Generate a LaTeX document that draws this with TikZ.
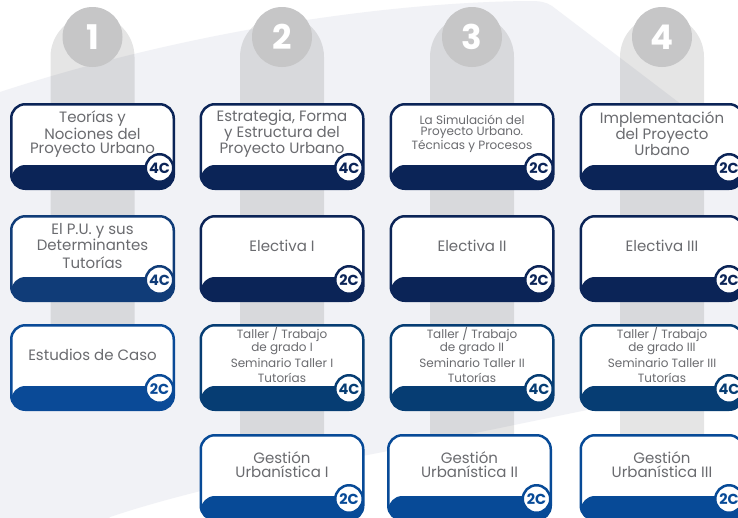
\documentclass[tikz,border=0pt]{standalone}
\usepackage{fontspec}
\setmainfont{Poppins}
\definecolor{bglight}{HTML}{F1F2F6}
\definecolor{numgray}{HTML}{C6C6C7}
\definecolor{txtgray}{HTML}{6A6B6F}
\definecolor{navy}{HTML}{0B2457}
\definecolor{navyb}{HTML}{103C78}
\definecolor{midblue}{HTML}{063D73}
\definecolor{blueA}{HTML}{0A4A97}
\definecolor{blueB}{HTML}{074A97}
\newcommand\mycard[7][]{%
  \node[cardbox, draw=#5, path picture={\fill[#5] ([yshift=-3pt]path picture bounding box.south west) rectangle ([yshift=23.75pt]path picture bounding box.south east);}] (#2) at (#3,#4+43.5) {};
  \node[cardtext,#1] (#2-t) at (#3,#4+31) {#6};
  \node[badge, draw=#5, text=#5] (#2-c) at (#3+67,#4+65) {#7};
}
\begin{document}
\begin{tikzpicture}[x=1pt,y=-1pt,
  cardbox/.style={rectangle, rounded corners=14pt, line width=2.5pt, fill=white, minimum width=162.5pt, minimum height=84.5pt, inner sep=0pt},
  cardtext/.style={align=center, text=txtgray, inner sep=0pt, font=\fontsize{15}{14}\selectfont},
  smalltext/.style={font=\fontsize{12}{11}\selectfont},
  tallertext/.style={font=\fontsize{12}{11.7}\selectfont},
  badge/.style={circle, fill=white, line width=2.5pt, minimum size=27.5pt, inner sep=0pt, font=\fontsize{14.5}{14.5}\selectfont\bfseries},
  pillar/.style={fill=black, fill opacity=0.1},
  numcirc/.style={circle, fill=numgray, minimum size=60pt, inner sep=0pt, text=white, font=\fontsize{34}{34}\selectfont\bfseries}]
\useasboundingbox (0,0) rectangle (738,517);
\clip (0,0) rectangle (738,517);
\fill[white] (0,0) rectangle (738,517);
% light background shape
\fill[bglight] (0,92) .. controls (190,30) and (390,2) .. (530,1) .. controls (540,1) and (546,2) .. (552,6) -- (820,210) -- (820,362) -- (383,452) .. controls (300,468) and (190,490) .. (110,517) -- (100,530) -- (0,530) -- cycle;
% pillars
\fill[pillar, rounded corners=42pt] (50.5,380) -- (50.5,15) -- (134.5,15) -- (134.5,380);
\fill[pillar, rounded corners=42pt] (240,480) -- (240,15) -- (324,15) -- (324,480);
\fill[pillar, rounded corners=42pt] (430,480) -- (430,15) -- (514,15) -- (514,480);
\fill[pillar, rounded corners=42pt] (620,480) -- (620,15) -- (704,15) -- (704,480);
% number circles
\node[numcirc] (n1) at (92.5,37) {1};
\node[numcirc] (n2) at (282,37) {2};
\node[numcirc] (n3) at (472,37) {3};
\node[numcirc] (n4) at (662,37) {4};
% row 1
\mycard{c11}{92.5}{103}{navy}{Teorías y\\Nociones del\\Proyecto Urbano}{4C}
\mycard{c12}{282}{103}{navy}{Estrategia, Forma\\y Estructura del\\Proyecto Urbano}{4C}
\mycard[smalltext]{c13}{472}{103}{navy}{La Simulación del\\Proyecto Urbano.\\Técnicas y Procesos}{2C}
\mycard{c14}{662}{103}{navy}{Implementación\\del Proyecto\\Urbano}{2C}
% row 2
\mycard{c21}{92.5}{215}{navyb}{El P.U. y sus\\Determinantes\\[4pt]Tutorías}{4C}
\mycard{c22}{282}{215}{navy}{Electiva I}{2C}
\mycard{c23}{472}{215}{navy}{Electiva II}{2C}
\mycard{c24}{662}{215}{navy}{Electiva III}{2C}
% row 3
\mycard{c31}{92.5}{324}{blueA}{Estudios de Caso}{2C}
\mycard[tallertext]{c32}{282}{324}{midblue}{Taller / Trabajo\\de grado I\\[2.3pt]Seminario Taller I\\[3.3pt]Tutorías}{4C}
\mycard[tallertext]{c33}{472}{324}{midblue}{Taller / Trabajo\\de grado II\\[2.3pt]Seminario Taller II\\[3.3pt]Tutorías}{4C}
\mycard[tallertext]{c34}{662}{324}{midblue}{Taller / Trabajo\\de grado III\\[2.3pt]Seminario Taller III\\[3.3pt]Tutorías}{4C}
% row 4
\mycard{c42}{282}{434}{blueB}{Gestión\\Urbanística I}{2C}
\mycard{c43}{469.5}{434}{blueB}{Gestión\\Urbanística II}{2C}
\mycard{c44}{662}{434}{blueB}{Gestión\\Urbanística III}{2C}
\end{tikzpicture}
\end{document}
